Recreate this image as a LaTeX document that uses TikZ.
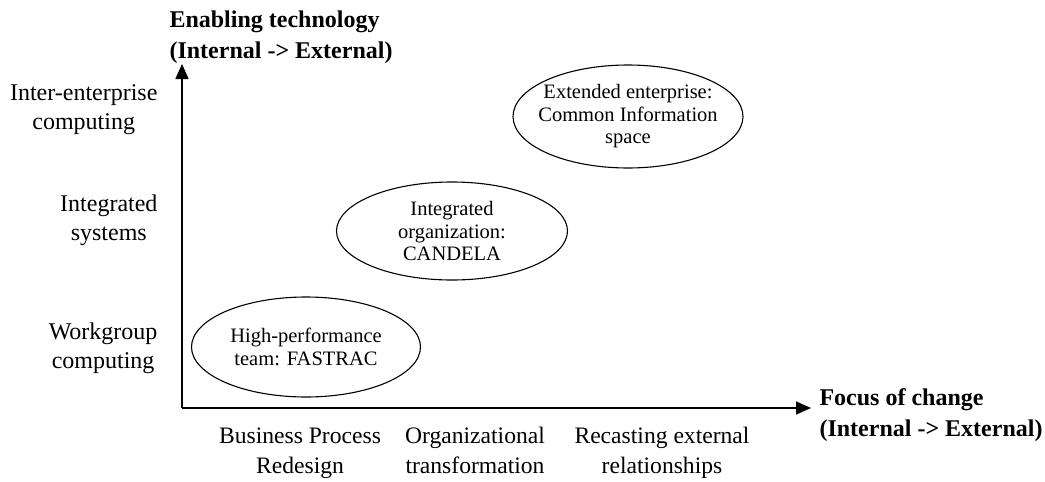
\documentclass[tikz,border=0pt]{standalone}
\usepackage{fontspec}
\setmainfont{Liberation Serif}
\usetikzlibrary{shapes.geometric,arrows.meta}
\begin{document}
\begin{tikzpicture}[x=1pt,y=-1pt,
  axis/.style={line width=1.6pt,-{Triangle[length=15pt,width=13pt]}},
  bubble/.style={ellipse,draw,line width=1.1pt,minimum width=229pt,minimum height=100pt,inner sep=-40pt,align=center,font=\fontsize{20.5}{22.5}\selectfont},
  ylab/.style={anchor=east,align=center,font=\fontsize{24}{29}\selectfont},
  xlab/.style={align=center,font=\fontsize{23.6}{30}\selectfont},
  title/.style={anchor=west,align=left,font=\bfseries\fontsize{24}{31}\selectfont}]
\useasboundingbox (0,0) rectangle (1045,482);
\coordinate (o) at (182,408);
\coordinate (ytip) at (182,64);
\coordinate (xtip) at (811,408);
\draw[axis] (o) -- (ytip);
\draw[axis] (o) -- (xtip);
\node[title] (ytitle) at (166,37.5) {Enabling technology\\(Internal -> External)};
\node[title] (xtitle) at (816,415) {Focus of change\\(Internal -> External)};
\node[ylab] (y3) at (161,109) {\strut Inter-enterprise\\\strut computing};
\node[ylab] (y2) at (161,220) {\strut Integrated\\\strut systems};
\node[ylab] (y1) at (161,348) {\strut Workgroup\\\strut computing};
\node[xlab] (x1) at (300,452) {\strut Business Process\\\strut Redesign};
\node[xlab] (x2) at (475,452) {\strut Organizational\\\strut transformation};
\node[xlab] (x3) at (662,452) {\strut Recasting external\\\strut relationships};
\node[bubble] (e1) at (306,347) {High-performance\\team: FASTRAC};
\node[bubble,minimum width=231pt,minimum height=98pt] (e2) at (452,231) {Integrated\\organization:\\CANDELA};
\node[bubble,minimum width=230pt,minimum height=103pt] (e3) at (628,116.5) {Extended enterprise:\\Common Information\\space};
\end{tikzpicture}
\end{document}
